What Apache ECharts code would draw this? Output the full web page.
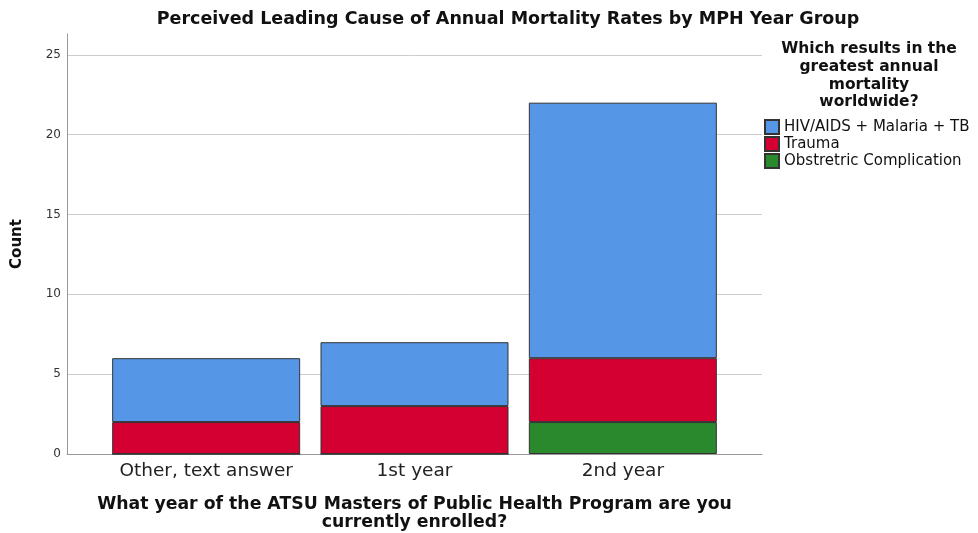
<!DOCTYPE html>
<html>
<head>
<meta charset="utf-8">
<script src="https://cdn.jsdelivr.net/npm/echarts@6/dist/echarts.min.js"></script>
<style>
  html, body { margin: 0; padding: 0; background: #fff; }
  #main { width: 978px; height: 533px; }
</style>
</head>
<body>
<div id="main"></div>
<script>
// categories along the x axis
var categories = ['Other, text answer', '1st year', '2nd year'];
// counts per answer, stacked bottom to top
var obstetric = [0, 0, 2];
var trauma = [2, 3, 4];
var hivMalariaTb = [4, 4, 16];
var seriesNames = ['HIV/AIDS + Malaria + TB', 'Trauma', 'Obstretric Complication'];
var yTicks = [0, 5, 10, 15, 20, 25];

var font = 'DejaVu Sans';
var colors = { hiv: '#5596e6', trauma: '#d50032', obst: '#2a882d' };
var yMax = 26.3;

var myChart = echarts.init(document.getElementById('main'));

var barStyle = function (c) {
    return { color: c, borderColor: '#333', borderWidth: 1 };
};

var option = {
    backgroundColor: '#fff',
    animation: false,
    title: {
        text: 'Perceived Leading Cause of Annual Mortality Rates by MPH Year Group',
        left: 503,
        textAlign: 'center',
        top: 5,
        textStyle: { fontFamily: font, fontSize: 17.5, fontWeight: 'bold', color: '#111' }
    },
    legend: {
        data: seriesNames,
        orient: 'vertical',
        left: 764,
        top: 119,
        padding: 0,
        itemWidth: 14,
        itemHeight: 14,
        itemGap: 1,
        icon: 'rect',
        textStyle: { fontFamily: font, fontSize: 15, color: '#111' }
    },
    graphic: [{
        type: 'text',
        x: 869,
        y: 40,
        style: {
            text: 'Which results in the\ngreatest annual\nmortality\nworldwide?',
            align: 'center',
            font: 'bold 15.5px "DejaVu Sans"',
            lineHeight: 17.8,
            fill: '#111'
        }
    }],
    // grid 0 carries the axis lines and gridlines, grid 1 the bars
    grid: [
        { left: 67, right: 216, top: 34, bottom: 79, outerBoundsMode: 'none' },
        { left: 102, right: 251, top: 34, bottom: 79, outerBoundsMode: 'none' }
    ],
    xAxis: [
        {
            gridIndex: 0,
            type: 'value',
            min: 0,
            max: 1,
            name: 'What year of the ATSU Masters of Public Health Program are you\ncurrently enrolled?',
            nameLocation: 'middle',
            nameGap: 42,
            nameTextStyle: { fontFamily: font, fontSize: 17.3, fontWeight: 'bold', color: '#111', lineHeight: 17.5 },
            axisLine: { onZero: false, lineStyle: { color: '#999', width: 1 } },
            axisTick: { show: false },
            axisLabel: { show: false },
            splitLine: { show: false }
        },
        {
            gridIndex: 1,
            type: 'category',
            data: categories,
            axisLine: { show: false },
            axisTick: { show: false },
            axisLabel: { fontFamily: font, fontSize: 18.5, color: '#222', margin: 8, interval: 0 }
        }
    ],
    yAxis: [
        {
            gridIndex: 0,
            type: 'value',
            min: 0,
            max: yMax,
            interval: 5,
            name: 'Count',
            nameLocation: 'middle',
            nameGap: 42,
            nameTextStyle: { fontFamily: font, fontSize: 15, fontWeight: 'bold', color: '#111' },
            axisLine: { show: true, onZero: false, lineStyle: { color: '#999', width: 1 } },
            axisTick: { show: false },
            axisLabel: {
                fontFamily: font, fontSize: 12, color: '#333', margin: 6,
                formatter: function (v) { return yTicks.indexOf(v) >= 0 ? String(v) : ''; }
            },
            splitLine: {
                show: true,
                lineStyle: { color: ['#ccc', '#ccc', '#ccc', '#ccc', '#ccc', '#ccc', 'rgba(0,0,0,0)'], width: 1 }
            }
        },
        {
            gridIndex: 1,
            type: 'value',
            min: 0,
            max: yMax,
            show: false
        }
    ],
    series: [
        {
            name: seriesNames[2], type: 'bar', stack: 'total', barWidth: 188,
            xAxisIndex: 1, yAxisIndex: 1,
            itemStyle: barStyle(colors.obst), data: obstetric
        },
        {
            name: seriesNames[1], type: 'bar', stack: 'total', barWidth: 188,
            xAxisIndex: 1, yAxisIndex: 1,
            itemStyle: barStyle(colors.trauma), data: trauma
        },
        {
            name: seriesNames[0], type: 'bar', stack: 'total', barWidth: 188,
            xAxisIndex: 1, yAxisIndex: 1,
            itemStyle: barStyle(colors.hiv), data: hivMalariaTb
        }
    ]
};

option && myChart.setOption(option);
</script>
</body>
</html>
